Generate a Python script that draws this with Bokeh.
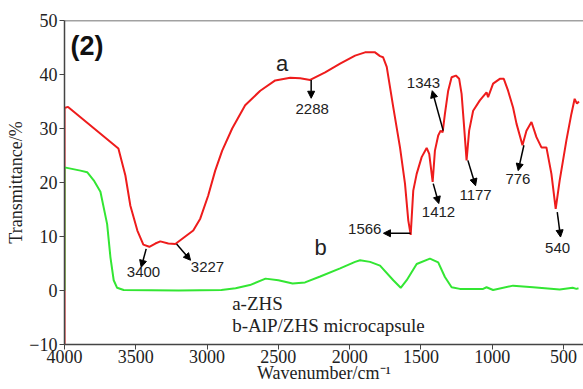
from bokeh.plotting import figure
from bokeh.models import Arrow, NormalHead, Span, Label, FixedTicker
from bokeh.embed import file_html
from bokeh.resources import INLINE

# ---- data ----
red_wn = [4000, 4000, 3975, 3622, 3573, 3538, 3489, 3447, 3405, 3363, 3328, 3272, 3223, 3153, 3097,
          3048, 2992, 2943, 2894, 2824, 2733, 2627, 2522, 2417, 2347, 2277, 2172, 2067, 1962, 1892,
          1822, 1787, 1766, 1740, 1694, 1647, 1612, 1589, 1572, 1554, 1530, 1495, 1460, 1442, 1418,
          1402, 1379, 1362, 1348, 1332, 1309, 1285, 1255, 1232, 1215, 1199, 1180, 1162, 1134, 1087,
          1040, 1029, 994, 947, 919, 889, 854, 830, 788, 760, 725, 690, 655, 620, 585, 555, 527,
          480, 445, 422, 406, 392]
red_t = [-10, 33.8, 34.0, 26.3, 21.3, 15.7, 11.1, 8.5, 8.1, 8.7, 9.1, 8.7, 8.6, 10.0, 11.1,
         13.3, 17.6, 22.2, 25.9, 30.0, 34.3, 37.0, 38.9, 39.4, 39.3, 39.0, 40.4, 42.0, 43.5, 44.1,
         44.1, 43.4, 43.2, 41.4, 33.9, 26.5, 19.8, 13.0, 10.3, 18.5, 21.6, 24.7, 26.4, 25.3, 20.1,
         25.9, 28.7, 29.6, 29.3, 32.7, 37.0, 39.5, 39.8, 39.2, 36.4, 30.9, 24.1, 29.6, 33.3, 35.2,
         36.7, 35.8, 38.3, 39.2, 39.2, 37.0, 33.9, 30.9, 26.9, 29.6, 31.2, 28.4, 26.5, 26.5, 21.6, 15.1, 20.4,
         27.8, 32.7, 35.5, 34.6, 35.0]

green_wn = [4000, 4000, 3888, 3841, 3795, 3748, 3701, 3678, 3655, 3631, 3585, 3200, 2900, 2800,
            2700, 2590, 2500, 2400, 2313, 2207, 2067, 1962, 1927, 1857, 1787, 1694, 1642, 1600,
            1530, 1437, 1379, 1332, 1285, 1227, 1064, 1040, 994, 854, 714, 527, 436, 410, 395]
green_t = [0, 22.8, 22.2, 21.9, 20.4, 18.3, 12.3, 6.2, 1.9, 0.5, 0.1, 0.0, 0.1, 0.4,
           1.0, 2.2, 1.9, 1.3, 1.5, 2.6, 4.1, 5.3, 5.6, 5.3, 4.6, 1.9, 0.5, 1.9,
           4.9, 5.9, 5.2, 2.5, 0.6, 0.3, 0.3, 0.6, 0.1, 0.9, 0.6, 0.2, 0.5, 0.3, 0.4]

y_ticks = [-10, 0, 10, 20, 30, 40, 50]
x_ticks = [4000, 3500, 3000, 2500, 2000, 1500, 1000, 500]

# peak annotations: label, arrow start (wn, T), arrow end (wn, T), label pos (wn, T), anchor
peaks = [
    ("3400", (3427, 7.7), (3462, 4.3), (3446, 3.4), "center"),
    ("3227", (3214, 8.6), (3116, 5.6), (2997, 4.3), "center"),
    ("2288", (2270, 39.0), (2270, 35.6), (2263, 33.6), "center"),
    ("1566", (1573, 10.6), (1763, 10.6), (1777, 11.3), "right"),
    ("1412", (1414, 19.8), (1375, 16.1), (1377, 14.5), "center"),
    ("1343", (1344, 29.6), (1421, 37.0), (1482, 38.4), "center"),
    ("1177", (1171, 24.1), (1117, 19.4), (1117, 17.6), "center"),
    ("776", (778, 26.9), (818, 22.2), (820, 20.7), "center"),
    ("540", (544, 14.5), (521, 9.9), (542, 7.8), "center"),
]

serif = "Liberation Serif"
sans = "Liberation Sans"
axis_col = "#444444"

p = figure(width=583, height=389, x_range=(4000, 360), y_range=(-10, 50),
           output_backend="svg", toolbar_location=None,
           min_border_left=64, min_border_right=0, min_border_top=20, min_border_bottom=45)
p.xgrid.visible = False
p.ygrid.visible = False
p.outline_line_color = None
p.background_fill_color = "white"

p.line(red_wn, red_t, line_color="#ee1c1c", line_width=2)
p.line(green_wn, green_t, line_color="#33e633", line_width=2)

p.add_layout(Span(location=50, dimension="width", line_color=axis_col, line_width=1.5))

for ax, ticks in ((p.xaxis[0], x_ticks), (p.yaxis[0], y_ticks)):
    ax.ticker = FixedTicker(ticks=ticks)
    ax.minor_tick_line_color = None
    ax.major_tick_out = 5
    ax.major_tick_in = 0
    ax.axis_line_color = axis_col
    ax.axis_line_width = 1.5
    ax.major_tick_line_color = axis_col
    ax.major_label_text_font = serif
    ax.major_label_text_font_size = "18px"
    ax.major_label_text_color = "#222222"
    ax.axis_label_text_font = serif
    ax.axis_label_text_font_size = "18px"
    ax.axis_label_text_font_style = "normal"
    ax.axis_label_text_color = "#222222"

p.xaxis.axis_label = "Wavenumber/cm\u207b\u00b9"
p.xaxis.major_label_standoff = 0
p.xaxis.axis_label_standoff = -3
p.yaxis.axis_label = "Transmittance/%"
p.yaxis.major_label_standoff = 2
p.yaxis.axis_label_standoff = 0

for lab, s, e, lp, anchor in peaks:
    p.add_layout(Arrow(x_start=s[0], y_start=s[1], x_end=e[0], y_end=e[1],
                       line_color="black", line_width=1.5,
                       end=NormalHead(size=7, fill_color="black", line_color="black")))
    p.add_layout(Label(x=lp[0], y=lp[1], text=lab, text_font=sans, text_font_size="15px",
                       text_color="#222222", text_align=anchor, text_baseline="middle"))

p.add_layout(Label(x=2474, y=42.0, text="a", text_font=sans, text_font_size="22px",
                   text_color="#222222", text_align="center", text_baseline="middle"))
p.add_layout(Label(x=2204, y=8.0, text="b", text_font=sans, text_font_size="22px",
                   text_color="#222222", text_align="center", text_baseline="middle"))
p.add_layout(Label(x=3958, y=45.2, text="(2)", text_font=sans, text_font_size="27px",
                   text_font_style="bold", text_color="#111111", text_align="left",
                   text_baseline="middle"))
p.add_layout(Label(x=2824, y=-2.4, text="a-ZHS", text_font=serif, text_font_size="19px",
                   text_color="#222222", text_align="left", text_baseline="middle"))
p.add_layout(Label(x=2824, y=-6.5, text="b-AlP/ZHS microcapsule", text_font=serif,
                   text_font_size="19px", text_color="#222222", text_align="left",
                   text_baseline="middle"))

open("out.html", "w").write(file_html(p, INLINE))
